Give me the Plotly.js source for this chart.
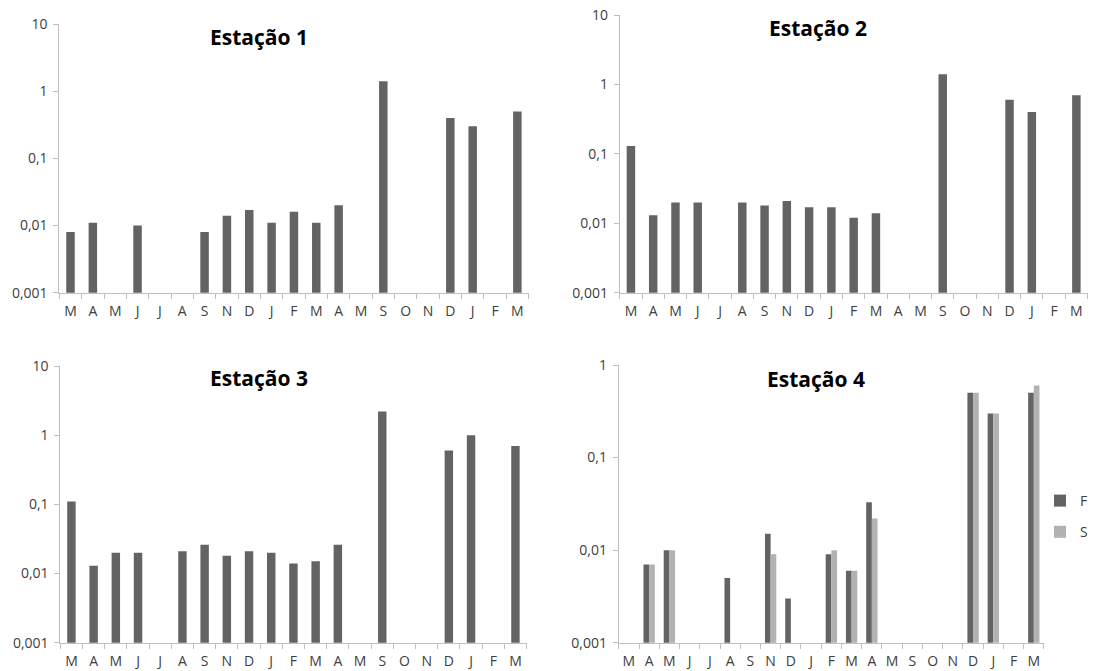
<!DOCTYPE html>
<html><head><meta charset="utf-8">
<script src="https://cdn.plot.ly/plotly-3.0.1.min.js"></script>
<style>html,body{margin:0;padding:0;background:#fff}</style>
</head><body><div id="chart" style="width:1093px;height:671px"></div>
<script>
const months = ["M","A","M","J","J","A","S","N","D","J","F","M","A","M","S","O","N","D","J","F","M"];
const idx = months.map((_, i) => i);
const est1 = [0.008,0.011,null,0.010,null,null,0.008,0.014,0.017,0.011,0.016,0.011,0.020,null,1.4,null,null,0.40,0.30,null,0.50];
const est2 = [0.13,0.013,0.020,0.020,null,0.020,0.018,0.021,0.017,0.017,0.012,0.014,null,null,1.4,null,null,0.60,0.40,null,0.70];
const est3 = [0.11,0.013,0.020,0.020,null,0.021,0.026,0.018,0.021,0.020,0.014,0.015,0.026,null,2.2,null,null,0.60,1.0,null,0.70];
const est4F = [null,0.007,0.010,null,null,0.005,null,0.015,0.003,null,0.009,0.006,0.033,null,null,null,null,0.50,0.30,null,0.50];
const est4S = [null,0.007,0.010,null,null,null,null,0.009,null,null,0.010,0.006,0.022,null,null,null,null,0.50,0.30,null,0.60];
const titles = ["Estação 1","Estação 2","Estação 3","Estação 4"];
const seriesNames = ["F","S"];
const yTickVals = [0.001,0.01,0.1,1,10];
const yTickText = ["0,001","0,01","0,1","1","10"];

const DARK = '#636363', LIGHT = '#b2b2b2', AXC = '#bfbfbf', TXT = '#404040';
const FONT = 'Open Sans, Liberation Sans, sans-serif';
const W = 1093, H = 671;

function bar(y, xa, ya, color, opts) {
  return Object.assign({type:'bar', x: idx, y: y, xaxis: xa, yaxis: ya,
    marker:{color: color, line:{width:0}}, showlegend:false, hoverinfo:'y'}, opts||{});
}
const data = [
  bar(est1,'x','y',DARK,{width:0.38}),
  bar(est2,'x2','y2',DARK,{width:0.38}),
  bar(est3,'x3','y3',DARK,{width:0.38}),
  bar(est4F,'x4','y4',DARK,{width:0.28, offset:-0.28, name:seriesNames[0], showlegend:true, legendgroup:'F'}),
  bar(est4S,'x4','y4',LIGHT,{width:0.28, offset:0, name:seriesNames[1], showlegend:true, legendgroup:'S'})
];

function xax(x0, x1) {
  return {domain:[x0/W, x1/W], range:[-0.5, 20.5], tickmode:'array', tickvals: idx, ticktext: months,
    ticks:'outside', ticklen:4, tickcolor:'rgba(0,0,0,0)', showline:true, linecolor:AXC, linewidth:1,
    showgrid:false, zeroline:false, tickfont:{family:FONT, size:14, color:TXT}, ticklabelstandoff:1,
    minor:{tickmode:'linear', tick0:0.5, dtick:1, ticks:'outside', ticklen:5, tickcolor:AXC, showgrid:false},
    fixedrange:true};
}
function yax(y0, y1, top, anchor) {
  return {domain:[1 - y1/H, 1 - y0/H], type:'log', range:[-3, top], anchor: anchor,
    tickmode:'array', tickvals: yTickVals, ticktext: yTickText,
    ticks:'outside', ticklen:5, tickcolor:AXC, showline:true, linecolor:AXC, linewidth:1,
    showgrid:false, zeroline:false, tickfont:{family:FONT, size:14, color:TXT}, ticklabelstandoff:3,
    fixedrange:true};
}
function title(t, px, py) {
  return {text:t, xref:'paper', yref:'paper', x: px/W, y: 1 - py/H, xanchor:'center', yanchor:'middle',
    showarrow:false, font:{family:FONT, size:21, weight:700, color:'#000000'}};
}

const layout = {
  width: W, height: H, margin:{l:0, r:0, t:0, b:0}, paper_bgcolor:'#fff', plot_bgcolor:'#fff',
  barmode:'overlay', font:{family:FONT, color:TXT},
  xaxis: Object.assign(xax(59.5, 530), {anchor:'y'}),
  yaxis: yax(24, 292.7, 1, 'x'),
  xaxis2: Object.assign(xax(621.5, 1090.5), {anchor:'y2'}),
  yaxis2: yax(15, 292.7, 1, 'x2'),
  xaxis3: Object.assign(xax(60.5, 528), {anchor:'y3'}),
  yaxis3: yax(366, 642.7, 1, 'x3'),
  xaxis4: Object.assign(xax(620.5, 1046.8), {anchor:'y4'}),
  yaxis4: yax(365, 642.7, 0, 'x4'),
  annotations: [title(titles[0], 260, 37.5), title(titles[1], 820, 28), title(titles[2], 260, 378), title(titles[3], 818, 379)],
  showlegend: true,
  legend: {x: 1043/W, y: 1 - 485/H, xanchor:'left', yanchor:'top', traceorder:'grouped', tracegroupgap:10,
    font:{family:FONT, size:14, color:TXT}, bgcolor:'rgba(0,0,0,0)', borderwidth:0}
};
Plotly.newPlot('chart', data, layout, {staticPlot:true, displayModeBar:false});
</script></body></html>
